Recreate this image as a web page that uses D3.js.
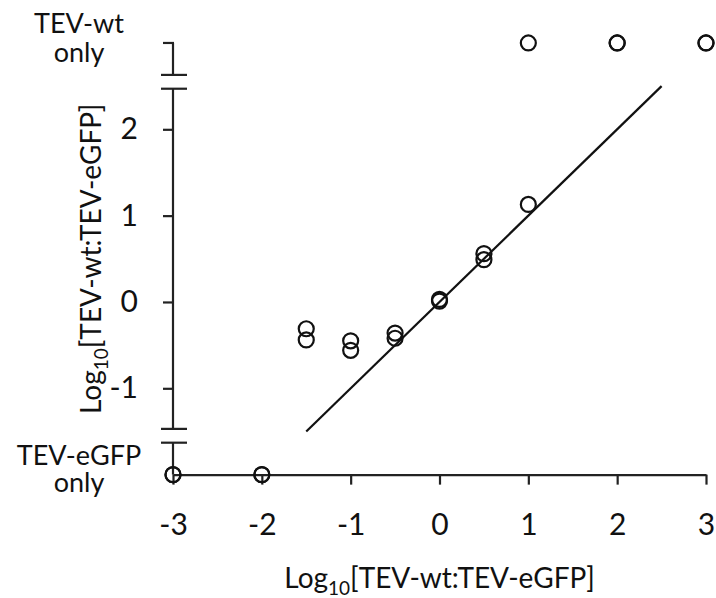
<!DOCTYPE html>
<html>
<head>
	<meta charset="utf-8">
	<title>TEV ratio</title>
	<script src="https://cdn.jsdelivr.net/npm/d3@7"></script>
</head>
<style type="text/css">
body { margin: 0; background: #fff; }
text { font-family: Lato, "Open Sans", sans-serif; fill: #111; }
</style>
<body>
</body>
</html>
<script type="text/javascript">
	// data
	var xTicks = [-3, -2, -1, 0, 1, 2, 3];
	var yTicks = [-1, 0, 1, 2];
	var ratioX = [-1.5, -1.5, -1, -1, -0.5, -0.5, 0, 0, 0.5, 0.5, 1];
	var ratioY = [-0.31, -0.44, -0.45, -0.56, -0.36, -0.42, 0.03, 0.01, 0.56, 0.49, 1.13];
	var wtOnlyX = [1, 2, 2, 3, 3];
	var gfpOnlyX = [-3, -3, -2, -2];
	var fitX = [-1.5, 2.5];
	var fitY = [-1.5, 2.5];
	// category rows sit on the same scale, past the breaks
	var wtOnlyLevel = 3;
	var gfpOnlyLevel = -2;

	var w = 716;
	var h = 598;
	var svg = d3.select("body").append("svg").attr("width", w).attr("height", h);

	var x = d3.scaleLinear().domain([-3, 3]).range([173, 706]);
	var y = d3.scaleLinear().domain([-1, 2]).range([388.3, 129.3]);
	var fmt = function(d){ return String(d); };

	// x axis
	var xAxis = svg.append("g")
		.attr("transform", "translate(0," + y(gfpOnlyLevel) + ")")
		.call(d3.axisBottom(x).tickValues(xTicks).tickFormat(fmt).tickSize(10).tickPadding(29).tickSizeOuter(0));
	xAxis.select(".domain").attr("stroke", "#222").attr("stroke-width", 2.2);
	xAxis.selectAll(".tick line").attr("stroke", "#222").attr("stroke-width", 2.2);
	xAxis.selectAll("text").style("font-size", "30px").style("font-family", "Lato").attr("fill", "#111");

	// y axis, drawn without its domain and split by hand
	var yAxis = svg.append("g")
		.attr("transform", "translate(" + x(-3) + ",0)")
		.call(d3.axisLeft(y).tickValues(yTicks).tickFormat(fmt).tickSize(10).tickPadding(25));
	yAxis.select(".domain").remove();
	yAxis.selectAll(".tick line").attr("stroke", "#222").attr("stroke-width", 2.2);
	yAxis.selectAll("text").style("font-size", "30px").style("font-family", "Lato").attr("fill", "#111");

	var ax = x(-3);
	var segs = [
		[wtOnlyLevel, 2.63],
		[2.47, -1.47],
		[-1.63, gfpOnlyLevel]
	];
	svg.selectAll(".seg").data(segs).enter().append("line")
		.attr("x1", ax).attr("x2", ax)
		.attr("y1", function(d){return y(d[0])})
		.attr("y2", function(d){return y(d[1])})
		.attr("stroke", "#222").attr("stroke-width", 2.2);
	// hook at the top row
	svg.append("line")
		.attr("x1", ax - 10).attr("x2", ax + 1)
		.attr("y1", y(wtOnlyLevel)).attr("y2", y(wtOnlyLevel))
		.attr("stroke", "#222").attr("stroke-width", 2.2);
	// break marks
	var breaks = [2.63, 2.47, -1.47, -1.63];
	svg.selectAll(".brk").data(breaks).enter().append("line")
		.attr("x1", ax - 12).attr("x2", ax + 14)
		.attr("y1", function(d){return y(d)})
		.attr("y2", function(d){return y(d)})
		.attr("stroke", "#222").attr("stroke-width", 2.2);

	// category labels
	var cats = [
		{level: wtOnlyLevel, lines: ["TEV-wt", "only"], dy: [-10, 19]},
		{level: gfpOnlyLevel, lines: ["TEV-eGFP", "only"], dy: [-10, 17]}
	];
	cats.forEach(function(c){
		c.lines.forEach(function(t, i){
			svg.append("text")
				.attr("x", 79)
				.attr("y", y(c.level) + c.dy[i])
				.attr("text-anchor", "middle")
				.style("font-size", "27px")
				.text(t);
		});
	});

	// fit line
	svg.append("line")
		.attr("x1", x(fitX[0])).attr("y1", y(fitY[0]))
		.attr("x2", x(fitX[1])).attr("y2", y(fitY[1]))
		.attr("stroke", "#111").attr("stroke-width", 2.2);

	// points
	var pts = [];
	for (var i = 0; i < ratioX.length; i++) pts.push([ratioX[i], ratioY[i]]);
	wtOnlyX.forEach(function(v){ pts.push([v, wtOnlyLevel]); });
	gfpOnlyX.forEach(function(v){ pts.push([v, gfpOnlyLevel]); });
	svg.selectAll("circle").data(pts).enter().append("circle")
		.attr("cx", function(d){return x(d[0])})
		.attr("cy", function(d){return y(d[1])})
		.attr("r", 7.5)
		.attr("fill", "none")
		.attr("stroke", "#111")
		.attr("stroke-width", 2.2);

	// axis titles
	var xt = svg.append("text")
		.attr("x", x(0)).attr("y", 588)
		.attr("text-anchor", "middle")
		.style("font-size", "28px");
	xt.append("tspan").text("Log");
	xt.append("tspan").attr("dy", 7).style("font-size", "19px").text("10");
	xt.append("tspan").attr("dy", -7).text("[TEV-wt:TEV-eGFP]");

	var yt = svg.append("text")
		.attr("transform", "translate(101," + ((y(wtOnlyLevel) + y(gfpOnlyLevel)) / 2) + ") rotate(-90)")
		.attr("text-anchor", "middle")
		.style("font-size", "28px");
	yt.append("tspan").text("Log");
	yt.append("tspan").attr("dy", 7).style("font-size", "19px").text("10");
	yt.append("tspan").attr("dy", -7).text("[TEV-wt:TEV-eGFP]");
</script>
